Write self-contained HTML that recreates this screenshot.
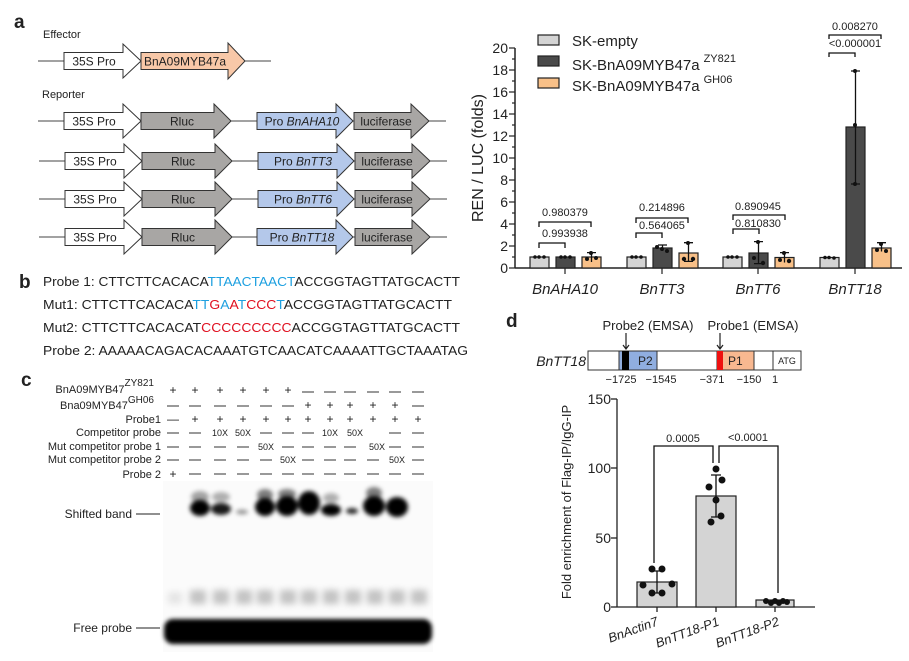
<!DOCTYPE html>
<html><head><meta charset="utf-8"><style>
html,body{margin:0;padding:0;background:#fff}
svg{display:block}
text{font-family:"Liberation Sans",Arial,sans-serif;fill:#222}
</style></head><body>
<svg width="909" height="661" viewBox="0 0 909 661" xmlns="http://www.w3.org/2000/svg">
<defs>
<filter id="bl" x="-50%" y="-50%" width="200%" height="200%"><feGaussianBlur stdDeviation="2.2"/></filter>
<filter id="bl2" x="-50%" y="-50%" width="200%" height="200%"><feGaussianBlur stdDeviation="3.5"/></filter>
<g id="s35"><polygon points="64,-8.5 123,-8.5 123,-17 141,0 123,17 123,8.5 64,8.5" fill="#fff" stroke="#333" stroke-width="1"/><text x="94" y="4.5" font-size="12" text-anchor="middle">35S Pro</text></g>
</defs>
<!-- Panel a diagram -->
<text x="14" y="28" font-size="19" font-weight="bold" fill="#000">a</text>
<text x="43" y="38" font-size="11">Effector</text>
<g transform="translate(0,61)">
<line x1="38" y1="0" x2="271" y2="0" stroke="#444"/>
<use href="#s35"/>
<polygon points="141,-8.5 228,-8.5 228,-18 245,0 228,18 228,8.5 141,8.5" fill="#f8c8a8" stroke="#333"/>
<text x="185" y="4.5" font-size="12" text-anchor="middle">BnA09MYB47a</text>
</g>
<text x="42" y="98" font-size="11">Reporter</text>
<g font-size="12">
<g transform="translate(0,121)">
<line x1="38" y1="0" x2="446" y2="0" stroke="#444"/><use href="#s35"/>
<polygon points="141,-8.5 214,-8.5 214,-17 231,0 214,17 214,8.5 141,8.5" fill="#a8a6a4" stroke="#333"/><text x="182" y="4.5" font-size="12" text-anchor="middle">Rluc</text>
<polygon points="257,-8.5 336,-8.5 336,-17 353,0 336,17 336,8.5 257,8.5" fill="#b4c8ea" stroke="#333"/><text x="302" y="4.5" font-size="12" text-anchor="middle">Pro <tspan font-style="italic">BnAHA10</tspan></text>
<polygon points="354,-8.5 411,-8.5 411,-17 429,0 411,17 411,8.5 354,8.5" fill="#a8a6a4" stroke="#333"/><text x="386" y="4.5" font-size="12" text-anchor="middle">luciferase</text>
</g>
<g transform="translate(1,161)">
<line x1="38" y1="0" x2="446" y2="0" stroke="#444"/><use href="#s35"/>
<polygon points="141,-8.5 214,-8.5 214,-17 231,0 214,17 214,8.5 141,8.5" fill="#a8a6a4" stroke="#333"/><text x="182" y="4.5" font-size="12" text-anchor="middle">Rluc</text>
<polygon points="257,-8.5 336,-8.5 336,-17 353,0 336,17 336,8.5 257,8.5" fill="#b4c8ea" stroke="#333"/><text x="302" y="4.5" font-size="12" text-anchor="middle">Pro <tspan font-style="italic">BnTT3</tspan></text>
<polygon points="354,-8.5 411,-8.5 411,-17 429,0 411,17 411,8.5 354,8.5" fill="#a8a6a4" stroke="#333"/><text x="386" y="4.5" font-size="12" text-anchor="middle">luciferase</text>
</g>
<g transform="translate(1,199)">
<line x1="38" y1="0" x2="446" y2="0" stroke="#444"/><use href="#s35"/>
<polygon points="141,-8.5 214,-8.5 214,-17 231,0 214,17 214,8.5 141,8.5" fill="#a8a6a4" stroke="#333"/><text x="182" y="4.5" font-size="12" text-anchor="middle">Rluc</text>
<polygon points="257,-8.5 336,-8.5 336,-17 353,0 336,17 336,8.5 257,8.5" fill="#b4c8ea" stroke="#333"/><text x="302" y="4.5" font-size="12" text-anchor="middle">Pro <tspan font-style="italic">BnTT6</tspan></text>
<polygon points="354,-8.5 411,-8.5 411,-17 429,0 411,17 411,8.5 354,8.5" fill="#a8a6a4" stroke="#333"/><text x="386" y="4.5" font-size="12" text-anchor="middle">luciferase</text>
</g>
<g transform="translate(1,237)">
<line x1="38" y1="0" x2="446" y2="0" stroke="#444"/><use href="#s35"/>
<polygon points="141,-8.5 214,-8.5 214,-17 231,0 214,17 214,8.5 141,8.5" fill="#a8a6a4" stroke="#333"/><text x="182" y="4.5" font-size="12" text-anchor="middle">Rluc</text>
<polygon points="256,-8.5 335,-8.5 335,-17 352,0 335,17 335,8.5 256,8.5" fill="#b4c8ea" stroke="#333"/><text x="301" y="4.5" font-size="12" text-anchor="middle">Pro <tspan font-style="italic">BnTT18</tspan></text>
<polygon points="354,-8.5 411,-8.5 411,-17 429,0 411,17 411,8.5 354,8.5" fill="#a8a6a4" stroke="#333"/><text x="386" y="4.5" font-size="12" text-anchor="middle">luciferase</text>
</g>
</g>
<!-- Panel b sequences -->
<text x="19" y="288" font-size="19" font-weight="bold" fill="#000">b</text>
<g font-size="13" fill="#111">
<text x="43" y="286" textLength="417" lengthAdjust="spacingAndGlyphs">Probe 1: CTTCTTCACACA<tspan fill="#1ea0e0">TTAACTAACT</tspan>ACCGGTAGTTATGCACTT</text>
<text x="43" y="309" textLength="409" lengthAdjust="spacingAndGlyphs">Mut1: CTTCTTCACACA<tspan fill="#1ea0e0">TT</tspan><tspan fill="#e01020">G</tspan><tspan fill="#1ea0e0">A</tspan><tspan fill="#e01020">A</tspan><tspan fill="#1ea0e0">T</tspan><tspan fill="#e01020">CCC</tspan><tspan fill="#1ea0e0">T</tspan>ACCGGTAGTTATGCACTT</text>
<text x="43" y="332" textLength="417" lengthAdjust="spacingAndGlyphs">Mut2: CTTCTTCACACAT<tspan fill="#e01020">CCCCCCCCC</tspan>ACCGGTAGTTATGCACTT</text>
<text x="43" y="355" textLength="425" lengthAdjust="spacingAndGlyphs">Probe 2: AAAAACAGACACAAATGTCAACATCAAAATTGCTAAATAG</text>
</g>
<!-- Panel c -->
<text x="21" y="386" font-size="19" font-weight="bold" fill="#000">c</text>
<g font-size="11" text-anchor="end">
<text x="154" y="393">BnA09MYB47<tspan dy="-7" font-size="10">ZY821</tspan></text>
<text x="154" y="409">Bna09MYB47<tspan dy="-6" font-size="10">GH06</tspan></text>
<text x="161" y="423">Probe1</text>
<text x="161" y="436">Competitor probe</text>
<text x="161" y="450">Mut competitor probe 1</text>
<text x="161" y="463">Mut competitor probe 2</text>
<text x="161" y="478">Probe 2</text>
</g>
<rect x="163" y="481" width="270" height="171" fill="#fbfbfb"/>
<g filter="url(#bl)" fill="#000">
<ellipse cx="200" cy="508" rx="10" ry="8"/><ellipse cx="200" cy="497" rx="9" ry="6" opacity=".35"/>
<ellipse cx="221" cy="509" rx="10" ry="6" opacity=".9"/><ellipse cx="221" cy="497" rx="9" ry="5" opacity=".3"/>
<ellipse cx="242" cy="512" rx="6" ry="2.5" opacity=".4"/>
<ellipse cx="265" cy="507" rx="10" ry="9"/><ellipse cx="265" cy="495" rx="8" ry="6" opacity=".5"/>
<ellipse cx="287" cy="506" rx="11" ry="10"/><ellipse cx="287" cy="494" rx="9" ry="5" opacity=".5"/>
<ellipse cx="309" cy="503" rx="11" ry="12"/>
<ellipse cx="331" cy="510" rx="10" ry="6"/><ellipse cx="331" cy="498" rx="8" ry="5" opacity=".3"/>
<ellipse cx="352" cy="511" rx="6" ry="3" opacity=".85"/>
<ellipse cx="374" cy="506" rx="11" ry="10"/><ellipse cx="374" cy="493" rx="8" ry="6" opacity=".5"/>
<ellipse cx="397" cy="507" rx="11" ry="10"/>
</g>
<g filter="url(#bl2)" fill="#000" opacity=".22">
<rect x="190" y="590" width="16" height="14"/><rect x="213" y="590" width="16" height="14"/><rect x="236" y="590" width="16" height="14"/><rect x="257" y="590" width="16" height="14"/><rect x="280" y="590" width="16" height="14"/><rect x="301" y="590" width="16" height="14"/><rect x="323" y="590" width="16" height="14"/><rect x="345" y="590" width="16" height="14"/><rect x="367" y="590" width="16" height="14"/><rect x="389" y="590" width="16" height="14"/><rect x="411" y="590" width="16" height="14"/><rect x="168" y="592" width="14" height="12" opacity=".4"/>
</g>
<g filter="url(#bl)" fill="#000">
<rect x="164" y="619" width="268" height="25" rx="9"/>
</g>
<text x="132" y="518" font-size="12" text-anchor="end">Shifted band</text>
<line x1="136" y1="514" x2="160" y2="514" stroke="#222"/>
<text x="132" y="632" font-size="12" text-anchor="end">Free probe</text>
<line x1="136" y1="628" x2="160" y2="628" stroke="#222"/>
<!-- Panel b chart -->
<g stroke="#222" stroke-width="1.5" fill="none">
<line x1="515" y1="48" x2="515" y2="268"/><line x1="515" y1="268" x2="902" y2="268"/>
</g>
<g stroke="#222" stroke-width="1.2">
<line x1="509" y1="268" x2="515" y2="268"/><line x1="509" y1="246" x2="515" y2="246"/><line x1="509" y1="224" x2="515" y2="224"/><line x1="509" y1="202" x2="515" y2="202"/><line x1="509" y1="180" x2="515" y2="180"/><line x1="509" y1="158" x2="515" y2="158"/><line x1="509" y1="136" x2="515" y2="136"/><line x1="509" y1="114" x2="515" y2="114"/><line x1="509" y1="92" x2="515" y2="92"/><line x1="509" y1="70" x2="515" y2="70"/><line x1="509" y1="48" x2="515" y2="48"/>
<line x1="512" y1="257" x2="515" y2="257"/><line x1="512" y1="235" x2="515" y2="235"/><line x1="512" y1="213" x2="515" y2="213"/><line x1="512" y1="191" x2="515" y2="191"/><line x1="512" y1="169" x2="515" y2="169"/><line x1="512" y1="147" x2="515" y2="147"/><line x1="512" y1="125" x2="515" y2="125"/><line x1="512" y1="103" x2="515" y2="103"/><line x1="512" y1="81" x2="515" y2="81"/><line x1="512" y1="59" x2="515" y2="59"/>
<line x1="565" y1="268" x2="565" y2="274"/><line x1="662" y1="268" x2="662" y2="274"/><line x1="758" y1="268" x2="758" y2="274"/><line x1="855" y1="268" x2="855" y2="274"/>
</g>
<g font-size="14" text-anchor="end">
<text x="508" y="273">0</text><text x="508" y="251">2</text><text x="508" y="229">4</text><text x="508" y="207">6</text><text x="508" y="185">8</text><text x="508" y="163">10</text><text x="508" y="141">12</text><text x="508" y="119">14</text><text x="508" y="97">16</text><text x="508" y="75">18</text><text x="508" y="53">20</text>
</g>
<text transform="translate(483,158) rotate(-90)" font-size="16" text-anchor="middle">REN / LUC (folds)</text>
<rect x="538" y="35" width="21" height="10" fill="#d4d4d4" stroke="#222" stroke-width="1.2"/>
<rect x="538" y="56" width="21" height="10" fill="#4a4a4a" stroke="#222" stroke-width="1.2"/>
<rect x="538" y="78" width="21" height="10" fill="#f8c088" stroke="#222" stroke-width="1.2"/>
<g font-size="15">
<text x="572" y="46">SK-empty</text>
<text x="572" y="70">SK-BnA09MYB47a<tspan dy="-8" font-size="11" dx="4">ZY821</tspan></text>
<text x="572" y="91">SK-BnA09MYB47a<tspan dy="-8" font-size="11" dx="4">GH06</tspan></text>
</g>
<g stroke="#222" stroke-width="1.2">
<rect x="530" y="257" width="19" height="11" fill="#d4d4d4"/><rect x="556" y="257" width="19" height="11" fill="#4a4a4a"/><rect x="582" y="257" width="19" height="11" fill="#f8c088"/>
<rect x="627" y="257" width="19" height="11" fill="#d4d4d4"/><rect x="653" y="248" width="19" height="20" fill="#4a4a4a"/><rect x="679" y="253" width="19" height="15" fill="#f8c088"/>
<rect x="723" y="257" width="19" height="11" fill="#d4d4d4"/><rect x="749" y="253" width="19" height="15" fill="#4a4a4a"/><rect x="775" y="257.5" width="19" height="10.5" fill="#f8c088"/>
<rect x="820" y="257.5" width="19" height="10.5" fill="#d4d4d4"/><rect x="846" y="127" width="19" height="141" fill="#4a4a4a"/><rect x="872" y="248" width="19" height="20" fill="#f8c088"/>
</g>
<g stroke="#111" stroke-width="1.3" fill="none">
<path d="M591.5 252.6V262M587 252.6h9"/>
<path d="M662.5 245V251M658 245h9"/><path d="M688.5 242.7V261.4M684 242.7h9M684 261.4h9"/>
<path d="M758.5 241.6V263.6M754 241.6h9M754 263.6h9"/><path d="M784.5 252.6V262.5M780 252.6h9"/>
<path d="M855.5 71V184M851 71h9M851 184h9"/><path d="M881.5 242.7V251.5M877 242.7h9"/>
<path d="M539 248v-5h26v5M539 227v-5h52v5"/>
<path d="M636 238v-5h26v5M636 223v-5h52v5"/>
<path d="M733 234v-5h26v5M733 220v-5h52v5"/>
<path d="M829 57v-4h26v4M829 39v-4h52v4"/>
</g>
<g fill="#111">
<circle cx="535" cy="257" r="1.8"/><circle cx="539" cy="257" r="1.8"/><circle cx="544" cy="257" r="1.8"/><circle cx="561" cy="257" r="1.8"/><circle cx="565" cy="257" r="1.8"/><circle cx="570" cy="257" r="1.8"/><circle cx="587" cy="259" r="2"/><circle cx="591" cy="253" r="2"/><circle cx="596" cy="258" r="2"/>
<circle cx="632" cy="257" r="1.8"/><circle cx="636" cy="257" r="1.8"/><circle cx="641" cy="257" r="1.8"/><circle cx="657" cy="247" r="2"/><circle cx="662" cy="249" r="2"/><circle cx="667" cy="251" r="2"/><circle cx="684" cy="259" r="2.2"/><circle cx="688" cy="243" r="2"/><circle cx="693" cy="259" r="2.2"/>
<circle cx="728" cy="257" r="1.8"/><circle cx="732" cy="257" r="1.8"/><circle cx="737" cy="257" r="1.8"/><circle cx="754" cy="258" r="2"/><circle cx="758" cy="242" r="2"/><circle cx="763" cy="263" r="2.2"/><circle cx="780" cy="260" r="2"/><circle cx="784" cy="253" r="2"/><circle cx="789" cy="261" r="2.2"/>
<circle cx="825" cy="257.5" r="1.8"/><circle cx="829" cy="257.5" r="1.8"/><circle cx="834" cy="258" r="1.8"/><circle cx="855" cy="71" r="2"/><circle cx="855" cy="125" r="2"/><circle cx="855" cy="184" r="2"/><circle cx="877" cy="250" r="2"/><circle cx="881" cy="244" r="2"/><circle cx="886" cy="251" r="2"/>
</g>
<g font-size="11" text-anchor="middle">
<text x="565" y="237">0.993938</text><text x="565" y="216">0.980379</text>
<text x="662" y="229">0.564065</text><text x="662" y="211">0.214896</text>
<text x="758" y="227">0.810830</text><text x="758" y="210">0.890945</text>
<text x="855" y="47">&lt;0.000001</text><text x="855" y="30">0.008270</text>
</g>
<g font-size="15" font-style="italic" text-anchor="middle">
<text x="565" y="294">BnAHA10</text><text x="662" y="294">BnTT3</text><text x="758" y="294">BnTT6</text><text x="855" y="294">BnTT18</text>
</g>
<!-- Panel d -->
<text x="506" y="327" font-size="19" font-weight="bold" fill="#000">d</text>
<text x="648" y="330" font-size="13" text-anchor="middle">Probe2 (EMSA)</text>
<text x="753" y="330" font-size="13" text-anchor="middle">Probe1 (EMSA)</text>
<g stroke="#222" stroke-width="1.2" fill="none"><path d="M626 333V349M623 345l3 4 3-4M720 333V349M717 345l3 4 3-4"/></g>
<rect x="588" y="351" width="213" height="19" fill="#fff" stroke="#333"/>
<rect x="619" y="351" width="38" height="19" fill="#90aee0" stroke="#333"/>
<rect x="622" y="351" width="7" height="19" fill="#000"/>
<rect x="717" y="351" width="37" height="19" fill="#f8b890" stroke="#333"/>
<rect x="717" y="351" width="6" height="19" fill="#ee1010"/>
<line x1="773" y1="351" x2="773" y2="370" stroke="#333"/>
<text x="638" y="365" font-size="12">P2</text><text x="728" y="365" font-size="12">P1</text>
<text x="787" y="364" font-size="9" text-anchor="middle">ATG</text>
<text x="586" y="366" font-size="14" font-style="italic" text-anchor="end">BnTT18</text>
<g font-size="11" text-anchor="middle"><text x="621" y="383">−1725</text><text x="661" y="383">−1545</text><text x="712" y="383">−371</text><text x="749" y="383">−150</text><text x="775" y="383">1</text></g>
<g stroke="#222" stroke-width="1.3"><line x1="617" y1="399" x2="617" y2="607"/><line x1="617" y1="607" x2="815" y2="607"/>
<line x1="611" y1="399" x2="617" y2="399"/><line x1="611" y1="468" x2="617" y2="468"/><line x1="611" y1="538" x2="617" y2="538"/><line x1="611" y1="607" x2="617" y2="607"/>
<line x1="657" y1="607" x2="657" y2="612"/><line x1="716" y1="607" x2="716" y2="612"/><line x1="775" y1="607" x2="775" y2="612"/></g>
<g font-size="14" text-anchor="end"><text x="611" y="404">150</text><text x="611" y="473">100</text><text x="611" y="543">50</text><text x="611" y="612">0</text></g>
<text transform="translate(571,502) rotate(-90)" font-size="13" text-anchor="middle">Fold enrichment of Flag-IP/IgG-IP</text>
<g stroke="#222" stroke-width="1.2" fill="#d4d4d4">
<rect x="637" y="582" width="40" height="25"/><rect x="696" y="496" width="40" height="111"/><rect x="756" y="600" width="38" height="7"/>
</g>
<g stroke="#111" stroke-width="1.3" fill="none">
<path d="M657 571V593M652 571h10M652 593h10"/><path d="M716 475V517M711 475h10M711 517h10"/>
<path d="M654 563V446H713V463M719 463V446H778V593"/>
</g>
<g fill="#111">
<circle cx="652" cy="569" r="3.5"/><circle cx="662" cy="569" r="3.5"/><circle cx="643" cy="585" r="3.5"/><circle cx="672" cy="584" r="3.5"/><circle cx="652" cy="593" r="3.5"/><circle cx="662" cy="593" r="3.5"/>
<circle cx="716" cy="469" r="3.5"/><circle cx="709" cy="487" r="3.5"/><circle cx="722" cy="480" r="3.5"/><circle cx="716" cy="500" r="3.5"/><circle cx="711" cy="522" r="3.5"/><circle cx="721" cy="516" r="3.5"/>
<circle cx="766" cy="601" r="3"/><circle cx="771" cy="603" r="3"/><circle cx="775" cy="601" r="3"/><circle cx="779" cy="603" r="3"/><circle cx="783" cy="601" r="3"/><circle cx="787" cy="602" r="3"/>
</g>
<g font-size="11" text-anchor="middle"><text x="683" y="442">0.0005</text><text x="748" y="441">&lt;0.0001</text></g>
<g font-size="13" font-style="italic" text-anchor="end">
<text transform="translate(659,625) rotate(-20)">BnActin7</text>
<text transform="translate(720,625) rotate(-20)">BnTT18-P1</text>
<text transform="translate(780,625) rotate(-20)">BnTT18-P2</text>
</g>
<g font-size="12" text-anchor="middle" fill="#222">
<text x="173" y="394">+</text><text x="195" y="394">+</text><text x="220" y="394">+</text><text x="243" y="394">+</text><text x="266" y="394">+</text><text x="288" y="394">+</text>
<text x="173" y="423">—</text><text x="195" y="423">+</text><text x="220" y="423">+</text><text x="243" y="423">+</text><text x="266" y="423">+</text><text x="288" y="423">+</text><text x="308" y="423">+</text><text x="330" y="423">+</text><text x="350" y="423">+</text><text x="373" y="423">+</text><text x="395" y="423">+</text><text x="418" y="423">+</text>
<text x="308" y="409">+</text><text x="330" y="409">+</text><text x="350" y="409">+</text><text x="373" y="409">+</text><text x="395" y="409">+</text>
<text x="173" y="478">+</text>
</g>
<g stroke="#333" stroke-width="1">
<path d="M302 392h12M324 392h12M344 392h12M367 392h12M389 392h12M412 392h12"/>
<path d="M167 406h12M189 406h12M214 406h12M237 406h12M260 406h12M282 406h12M412 406h12"/>
<path d="M167 433h12M189 433h12M260 433h12M282 433h12M302 433h12M389 433h12M412 433h12"/>
<path d="M167 447h12M189 447h12M214 447h12M237 447h12M282 447h12M302 447h12M324 447h12M344 447h12M389 447h12M412 447h12"/>
<path d="M167 460h12M189 460h12M214 460h12M237 460h12M260 460h12M302 460h12M324 460h12M344 460h12M367 460h12M412 460h12"/>
<path d="M189 474h12M214 474h12M237 474h12M260 474h12M282 474h12M302 474h12M324 474h12M344 474h12M367 474h12M389 474h12M412 474h12"/>
</g>
<g font-size="9" text-anchor="middle">
<text x="220" y="436">10X</text><text x="243" y="436">50X</text><text x="330" y="436">10X</text><text x="355" y="436">50X</text>
<text x="266" y="450">50X</text><text x="377" y="450">50X</text>
<text x="288" y="463">50X</text><text x="397" y="463">50X</text>
</g>
</svg>
</body></html>
